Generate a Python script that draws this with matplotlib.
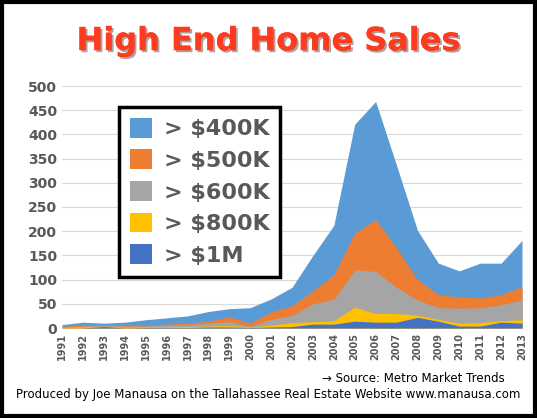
import matplotlib
matplotlib.use("Agg")
import matplotlib.pyplot as plt
import matplotlib.patheffects as pe
from matplotlib.patches import Rectangle

years = list(range(1991, 2014))
over_400k = [7, 12, 10, 12, 17, 21, 25, 34, 40, 42, 60, 84, 150, 212, 421, 468, 336, 202, 134, 118, 134, 134, 181]
over_500k = [3, 7, 7, 6, 6, 8, 10, 14, 23, 10, 33, 46, 77, 110, 196, 224, 165, 100, 69, 64, 62, 69, 85]
over_600k = [2, 4, 5, 4, 4, 6, 7, 10, 13, 3, 18, 26, 50, 59, 120, 117, 84, 58, 42, 41, 42, 48, 58]
over_800k = [1, 2, 3, 1, 2, 2, 3, 4, 5, 2, 6, 11, 13, 15, 43, 30, 30, 26, 18, 10, 11, 15, 17]
over_1m = [0, 0, 3, 0, 1, 1, 1, 2, 2, 1, 2, 3, 8, 8, 14, 12, 12, 22, 14, 4, 4, 12, 10]

series = [("> $400K", over_400k, "#5B9BD5"), ("> $500K", over_500k, "#ED7D31"),
          ("> $600K", over_600k, "#A5A5A5"), ("> $800K", over_800k, "#FFC000"),
          ("> $1M", over_1m, "#4472C4")]

fig = plt.figure(figsize=(5.37, 4.18), dpi=100)
fig.patches.append(Rectangle((0.004, 0.004), 0.992, 0.992, transform=fig.transFigure,
                             fill=False, edgecolor="black", linewidth=3))
ax = fig.add_axes([62 / 537, 1 - 328 / 418, 460 / 537, 242 / 418])
for label, vals, color in series:
    ax.fill_between(years, vals, color=color, label=label, linewidth=0)
ax.set_xlim(1991, 2013)
ax.set_ylim(0, 500)
ax.set_yticks(range(0, 501, 50))
ax.set_xticks(years)
ax.set_xticklabels([str(y) for y in years], rotation=90, fontsize=7, fontweight="bold", color="#595959")
ax.tick_params(axis="y", labelsize=10, colors="#595959", length=0)
for t in ax.get_yticklabels():
    t.set_fontweight("bold")
ax.tick_params(axis="x", length=0)
ax.grid(axis="y", color="#D9D9D9", linewidth=0.8)
ax.set_axisbelow(True)
for s in ax.spines.values():
    s.set_visible(False)

leg = ax.legend(loc="upper left", bbox_to_anchor=(0.1, 0.96), prop={"size": 16, "weight": "bold"},
                handlelength=1.0, handleheight=1.0, handletextpad=0.5, fancybox=False, framealpha=1,
                edgecolor="black", labelspacing=0.45, borderpad=0.5, labelcolor="#595959")
leg.get_frame().set_linewidth(2.5)

fig.text(0.5, 0.88, "High End Home Sales", ha="center", fontsize=23, fontweight="bold",
         color="#FF3B1F",
         path_effects=[pe.withStroke(linewidth=4, foreground="white"),
                       pe.SimplePatchShadow(offset=(1.5, -1.5), alpha=0.4), pe.Normal()])
fig.text(0.6, 0.085, "\u2192 Source: Metro Market Trends", fontsize=8.5)
fig.text(0.5, 0.048, "Produced by Joe Manausa on the Tallahassee Real Estate Website www.manausa.com",
         ha="center", fontsize=8.5)
fig.savefig("out.png", dpi=100)
